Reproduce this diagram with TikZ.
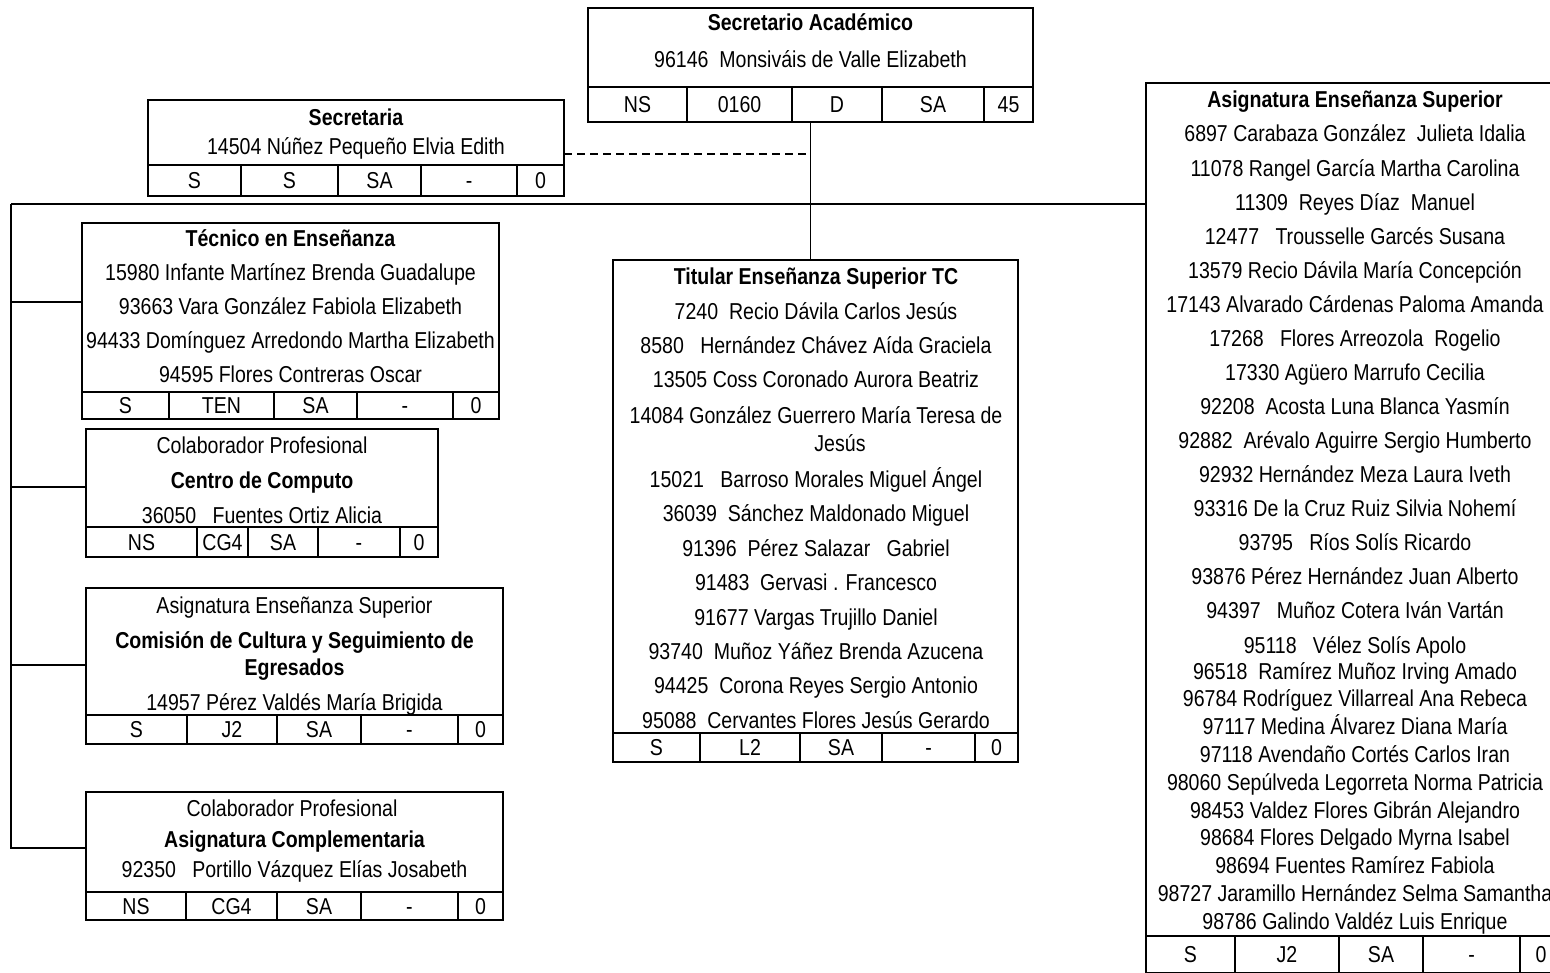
\documentclass[tikz,border=0pt]{standalone}
\usepackage{fontspec}
\setmainfont{Liberation Sans}[FakeStretch=0.85]
\newcommand\fsz{\fontsize{23}{27}\selectfont}
\newcommand\cellrow[4]{%
  \node[inner sep=0pt,outer sep=0pt,minimum size=0pt,anchor=north west] (#1-0) at #2 {};
  \foreach \w/\t [count=\i, remember=\i as \j (initially 0)] in {#4} {
    \node[cellbox, minimum width=\w pt, minimum height=#3 pt] (#1-\i) at (#1-\j.north east) {\t};
  }%
}
\begin{document}
\begin{tikzpicture}[x=1pt,y=-1pt,
  panel/.style={draw, line width=2pt, inner sep=0pt, outer sep=0pt, anchor=north west},
  cellbox/.style={draw, line width=2pt, inner sep=0pt, outer sep=0pt, anchor=north west, font=\fsz, text height=16.5pt, text depth=0pt},
  txt/.style={anchor=base, yshift=-8pt, inner sep=0pt, font=\fsz},
  btxt/.style={txt, font=\fsz\bfseries},
  link/.style={line width=1.2pt},
  dlink/.style={line width=1.2pt, dash pattern=on 8pt off 5pt}]
\useasboundingbox (0,0) rectangle (1550,973);

% Secretario Academico
\node[panel, minimum width=445pt, minimum height=79pt] (sa) at (588,8) {};
\cellrow{sar}{(588,87)}{35}{99/NS,105/0160,90/D,102/SA,49/45}
\node[btxt] (sa-t) at (810.5,23) {Secretario Académico};
\node[txt] (sa-n) at (810.5,60) {96146\ \ Monsiváis de Valle Elizabeth};

% Secretaria
\node[panel, minimum width=416pt, minimum height=65pt] (sec) at (148,100) {};
\cellrow{secr}{(148,165)}{31}{93/S,97/S,83/SA,96/-,47/0}
\node[btxt] (sec-t) at (356,118) {Secretaria};
\node[txt] (sec-n) at (356,147) {14504 Núñez Pequeño Elvia Edith};

% Tecnico en Ensenanza
\node[panel, minimum width=417pt, minimum height=169pt] (tec) at (82,223) {};
\cellrow{tecr}{(82,392)}{27}{87/S,105/TEN,83/SA,96/-,46/0}
\node[btxt] (tec-t) at (290.5,239) {Técnico en Enseñanza};
\foreach \t [count=\k from 0] in {15980 Infante Martínez Brenda Guadalupe,%
93663 Vara González Fabiola Elizabeth,%
94433 Domínguez Arredondo Martha Elizabeth,%
94595 Flores Contreras Oscar}
  \node[txt] (tec-n\k) at (290.5,{273+34*\k}) {\t};

% Centro de Computo
\node[panel, minimum width=352pt, minimum height=98pt] (cc) at (86,429) {};
\cellrow{ccr}{(86,527)}{30}{111/NS,51/CG4,70/SA,82/-,38/0}
\node[txt] (cc-a) at (262,445) {Colaborador Profesional};
\node[btxt] (cc-t) at (262,480) {Centro de Computo};
\node[txt] (cc-n) at (262,515) {36050\ \ \ Fuentes Ortiz Alicia};

% Comision de Cultura
\node[panel, minimum width=417pt, minimum height=127pt] (cul) at (86,588) {};
\cellrow{culr}{(86,715)}{29}{101/S,90/J2,84/SA,97/-,45/0}
\node[txt] (cul-a) at (294.5,605) {Asignatura Enseñanza Superior};
\node[btxt] (cul-t1) at (294.5,640) {Comisión de Cultura y Seguimiento de};
\node[btxt] (cul-t2) at (294.5,667) {Egresados};
\node[txt] (cul-n) at (294.5,702) {14957 Pérez Valdés María Brigida};

% Asignatura Complementaria
\node[panel, minimum width=417pt, minimum height=100pt] (ac) at (86,792) {};
\cellrow{acr}{(86,892)}{28}{100/NS,91/CG4,84/SA,97/-,45/0}
\node[txt] (ac-a) at (292,808) {Colaborador Profesional};
\node[btxt] (ac-t) at (294.5,839) {Asignatura Complementaria};
\node[txt] (ac-n) at (294.5,869) {92350\ \ \ Portillo Vázquez Elías Josabeth};

% Titular Ensenanza Superior TC
\node[panel, minimum width=405pt, minimum height=473pt] (tit) at (613,260) {};
\cellrow{titr}{(613,733)}{29}{87/S,100/L2,82/SA,93/-,43/0}
\node[btxt] (tit-t) at (816,277) {Titular Enseñanza Superior TC};
\foreach \x/\y/\t [count=\k] in {816/312/7240\ \ Recio Dávila Carlos Jesús,%
816/346/8580\ \ \ Hernández Chávez Aída Graciela,%
816/380/13505 Coss Coronado Aurora Beatriz,%
816/415/14084 González Guerrero María Teresa de,%
840/443/Jesús,%
816/479/15021\ \ \ Barroso Morales Miguel Ángel,%
816/513/36039\ \ Sánchez Maldonado Miguel,%
816/548/91396\ \ Pérez Salazar\ \ \ Gabriel,%
816/582/91483\ \ Gervasi . Francesco,%
816/617/91677 Vargas Trujillo Daniel,%
816/651/93740\ \ Muñoz Yáñez Brenda Azucena,%
816/685/94425\ \ Corona Reyes Sergio Antonio,%
816/720/95088\ \ Cervantes Flores Jesús Gerardo}
  \node[txt] (tit-n\k) at (\x,\y) {\t};

% Asignatura Ensenanza Superior (right)
\node[panel, minimum width=416pt, minimum height=853pt] (aes) at (1146,83) {};
\cellrow{aesr}{(1146,936)}{37}{89/S,104/J2,84/SA,97/-,42/0}
\node[btxt] (aes-t) at (1355,100) {Asignatura Enseñanza Superior};
\foreach \t [count=\k from 0] in {6897 Carabaza González\ \ Julieta Idalia,%
11078 Rangel García Martha Carolina,%
11309\ \ Reyes Díaz\ \ Manuel,%
12477\ \ \ Trousselle Garcés Susana,%
13579 Recio Dávila María Concepción,%
17143 Alvarado Cárdenas Paloma Amanda,%
17268\ \ \ Flores Arreozola\ \ Rogelio,%
17330 Agüero Marrufo Cecilia,%
92208\ \ Acosta Luna Blanca Yasmín,%
92882\ \ Arévalo Aguirre Sergio Humberto,%
92932 Hernández Meza Laura Iveth,%
93316 De la Cruz Ruiz Silvia Nohemí,%
93795\ \ \ Ríos Solís Ricardo,%
93876 Pérez Hernández Juan Alberto,%
94397\ \ \ Muñoz Cotera Iván Vartán,%
95118\ \ \ Vélez Solís Apolo}
  \node[txt] (aes-a\k) at (1355,{134+34.07*\k}) {\t};
\foreach \t [count=\k from 0] in {96518\ \ Ramírez Muñoz Irving Amado,%
96784 Rodríguez Villarreal Ana Rebeca,%
97117 Medina Álvarez Diana María,%
97118 Avendaño Cortés Carlos Iran,%
98060 Sepúlveda Legorreta Norma Patricia,%
98453 Valdez Flores Gibrán Alejandro,%
98684 Flores Delgado Myrna Isabel,%
98694 Fuentes Ramírez Fabiola,%
98727 Jaramillo Hernández Selma Samantha,%
98786 Galindo Valdéz Luis Enrique}
  \node[txt] (aes-b\k) at (1355,{671+27.8*\k}) {\t};

% connectors
\coordinate (dj) at (810.5,154);
\coordinate (hl) at (11,204);
\coordinate (vb) at (11,848);
\coordinate (b1) at (11,302);
\coordinate (b2) at (11,487);
\coordinate (b3) at (11,665);
\draw[link] (sa.south |- sar-3.south) -- (sa.south |- tit.north);
\draw[dlink] (sec.east |- dj) -- (dj);
\draw[link] (hl) -- (hl -| aes.west);
\draw[link] (hl) -- (vb) -- (vb -| ac.west);
\draw[link] (b1) -- (b1 -| tec.west);
\draw[link] (b2) -- (b2 -| cc.west);
\draw[link] (b3) -- (b3 -| cul.west);
\end{tikzpicture}
\end{document}
